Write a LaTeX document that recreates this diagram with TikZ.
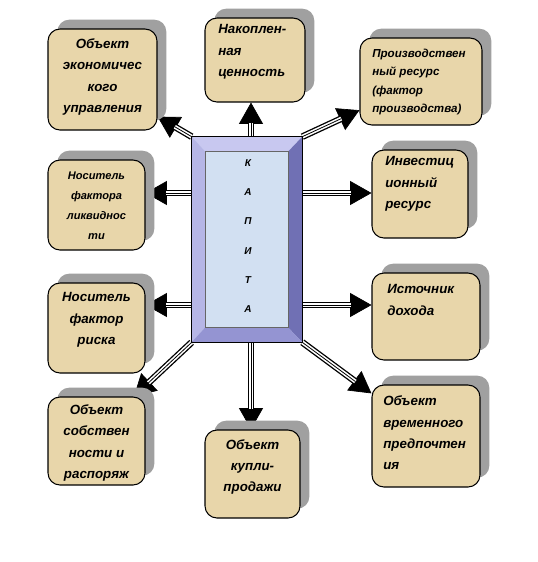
\documentclass[tikz,border=0pt]{standalone}
\usepackage{fontspec}
\setmainfont{Liberation Sans}
\usetikzlibrary{arrows.meta,shadows,backgrounds}
\definecolor{boxtan}{RGB}{232,214,170}
\definecolor{shadowgray}{RGB}{160,160,160}
\definecolor{bvtop}{RGB}{200,200,240}
\definecolor{bvleft}{RGB}{182,182,230}
\definecolor{bvright}{RGB}{112,112,180}
\definecolor{bvbottom}{RGB}{148,148,210}
\definecolor{capin}{RGB}{210,224,242}
\begin{document}
\begin{tikzpicture}[x=0.75pt,y=-0.75pt,
  box/.style={draw=black, line width=0.8pt, fill=boxtan, rounded corners=9pt, inner sep=0pt,
    general shadow={shadow xshift=7pt, shadow yshift=7pt, fill=shadowgray}},
  txt/.style={inner sep=0pt, font=\bfseries\itshape\fontsize{10}{16}\selectfont},
  txtc/.style={txt, align=center},
  txtl/.style={txt, align=left, anchor=west},
  small/.style={font=\bfseries\itshape\fontsize{8.7}{13.8}\selectfont},
  smallc/.style={font=\bfseries\itshape\fontsize{8.3}{15}\selectfont},
  arr/.style={line width=5pt, -{Triangle[length=16pt,width=18pt,line width=0.5pt]},
    postaction={draw=white, line width=3pt, -, shorten >=15pt},
    postaction={draw=black, line width=0.6pt, -, shorten >=15pt}}
]
\useasboundingbox (0,0) rectangle (537,562);

% boxes
\node[box, minimum width=81.75pt, minimum height=75.75pt] (b1) at (102.5,79.5) {};
\node[box, minimum width=75pt,    minimum height=63pt]    (b2) at (255,60) {};
\node[box, minimum width=91.5pt,  minimum height=65.25pt] (b3) at (421,81.5) {};
\node[box, minimum width=72.75pt, minimum height=67.5pt]  (b4) at (96.5,205) {};
\node[box, minimum width=72pt,    minimum height=66pt]    (b6) at (420,194) {};
\node[box, minimum width=72.75pt, minimum height=67.5pt]  (b7) at (96.5,328) {};
\node[box, minimum width=81pt,    minimum height=65.25pt] (b8) at (426,316.5) {};
\node[box, minimum width=72.75pt, minimum height=66pt]    (b9) at (96.5,441) {};
\node[box, minimum width=71.25pt, minimum height=66pt]    (b10) at (252.5,474) {};
\node[box, minimum width=81pt,    minimum height=76.5pt]  (b11) at (426,436) {};

% centre block
\node[draw=black, line width=0.5pt, fill=capin, minimum width=82.5pt, minimum height=153.75pt, inner sep=0pt] (cap) at (247,239.5) {};
\coordinate (i1) at ([shift={(10pt,-11pt)}]cap.north west);
\coordinate (i2) at ([shift={(-10.5pt,-11pt)}]cap.north east);
\coordinate (i3) at ([shift={(-10.5pt,11pt)}]cap.south east);
\coordinate (i4) at ([shift={(10pt,11pt)}]cap.south west);
\fill[bvtop] (cap.north west) -- (cap.north east) -- (i2) -- (i1) -- cycle;
\fill[bvleft] (cap.north west) -- (i1) -- (i4) -- (cap.south west) -- cycle;
\fill[bvright] (cap.north east) -- (cap.south east) -- (i3) -- (i2) -- cycle;
\fill[bvbottom] (cap.south west) -- (i4) -- (i3) -- (cap.south east) -- cycle;
\draw[line width=0.4pt] (cap.north west) rectangle (cap.south east);
\draw[line width=0.3pt, black!60] (i1) rectangle (i3);
\node[inner sep=0pt, align=center, font=\bfseries\itshape\fontsize{7.5}{22}\selectfont] (capt) at (248,236) {К\\А\\П\\И\\Т\\А};

% arrows
\begin{scope}[on background layer]
\draw[arr] (cap.north west) -- (b1.-34);
\draw[arr] (251,0 |- cap.north) -- (251,0 |- b2.south);
\draw[arr] (cap.north east) -- (b3.205);
\draw[arr] (cap.west |- 0,193) -- (b4.east |- 0,193);
\draw[arr] (cap.east |- 0,193) -- (b6.west |- 0,193);
\draw[arr] (cap.west |- 0,305) -- (b7.east |- 0,305);
\draw[arr] (cap.east |- 0,305) -- (b8.west |- 0,305);
\draw[arr] (cap.south west) -- (b9.50);
\draw[arr] (251,0 |- cap.south) -- (251,0 |- b10.north);
\draw[arr] (cap.south east) -- (b11.142);
\end{scope}

% texts
\node[txtc] (t1) at (102.5,77) {Объект\\экономичес\\кого\\управления};
\node[txtl] (t2) at (218,52) {Накоплен-\\ная\\ценность};
\node[txtl, small] (t3) at (372,82) {Производствен\\ный ресурс\\(фактор\\производства)};
\node[txtc, smallc] (t4) at (96.5,206) {Носитель\\фактора\\ликвиднос\\ти};
\node[txtl] (t6) at (385,184) {Инвестиц\\ионный\\ресурс};
\node[txtc] (t7) at (96.5,320) {Носитель\\фактор\\риска};
\node[txtl] (t8) at (387,300) {Источник\\дохода};
\node[txtc] (t9) at (96.5,443) {Объект\\собствен\\ности и\\распоряж};
\node[txtc] (t10) at (252.5,467) {Объект\\купли-\\продажи};
\node[txtl] (t11) at (383,433) {Объект\\временного\\предпочтен\\ия};
\end{tikzpicture}
\end{document}
